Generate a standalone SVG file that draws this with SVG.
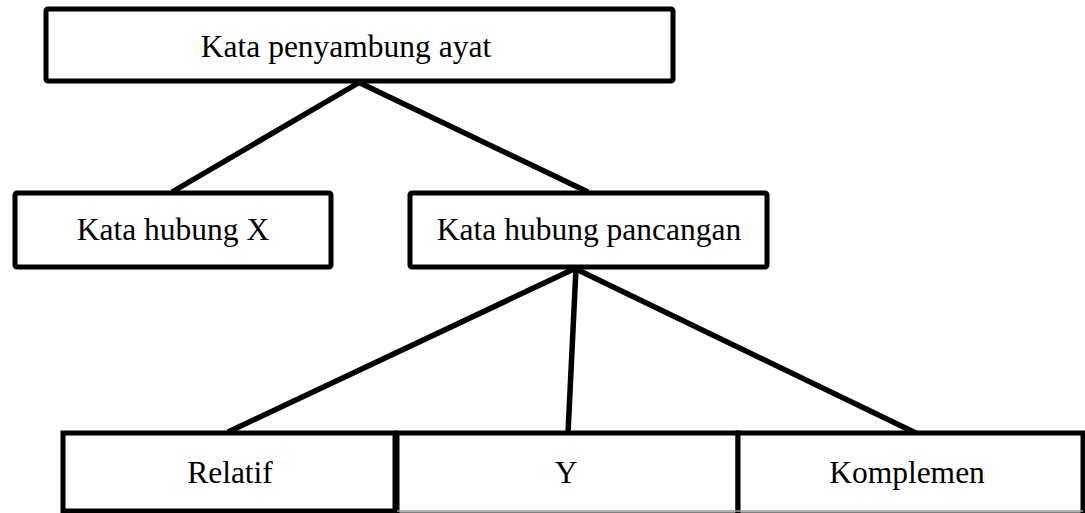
<svg xmlns="http://www.w3.org/2000/svg" width="1085" height="513" viewBox="0 0 1085 513">
<style>
.box{fill:#fff;stroke:#000;stroke-width:5}
.lbl{font-family:"Liberation Serif","Times New Roman",serif;font-size:31.5px;fill:#000;text-anchor:middle}
.con line{stroke:#000;stroke-width:5.5;stroke-linecap:butt}
</style>
<rect width="1085" height="513" fill="#fff"/>
<g id="connectors" class="con">
<line x1="360" y1="82" x2="172" y2="192"/>
<line x1="358" y1="82" x2="588" y2="192"/>
<line x1="576" y1="268" x2="228" y2="432"/>
<line x1="576" y1="268" x2="568" y2="433"/>
<line x1="578" y1="270" x2="920" y2="435"/>
</g>
<g id="n-top"><rect class="box" x="46" y="9" width="627" height="72" rx="2"/><text class="lbl" x="346" y="57">Kata penyambung ayat</text></g>
<g id="n-x"><rect class="box" x="15" y="193" width="316" height="74" rx="2"/><text class="lbl" x="173" y="240">Kata hubung X</text></g>
<g id="n-pancangan"><rect class="box" x="410" y="193" width="357" height="74" rx="2"/><text class="lbl" x="589" y="240">Kata hubung pancangan</text></g>
<g id="n-relatif"><rect class="box" x="63" y="433" width="332" height="78"/><text class="lbl" x="230" y="483">Relatif</text></g>
<g id="n-y"><rect class="box" x="397" y="433" width="341" height="82"/><text class="lbl" x="566" y="483">Y</text></g>
<g id="n-komplemen"><rect class="box" x="738" y="433" width="345" height="82"/><text class="lbl" x="907" y="483">Komplemen</text></g>
<line x1="397" y1="511" x2="1083" y2="511" stroke="#999" stroke-width="1.5"/>
</svg>
